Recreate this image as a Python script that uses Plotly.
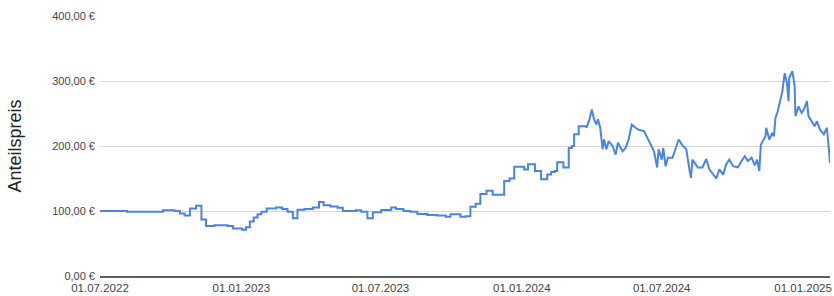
import plotly.graph_objects as go

# Weekly-ish step segment (2022-07 .. 2024-03)
step_dates = [
    "2022-07-01", "2022-08-05", "2022-09-21", "2022-10-06", "2022-10-13", "2022-10-19",
    "2022-10-26", "2022-11-03", "2022-11-10", "2022-11-16", "2022-11-27", "2022-12-14",
    "2022-12-21", "2023-01-02", "2023-01-07", "2023-01-12", "2023-01-17", "2023-01-22",
    "2023-01-27", "2023-02-03", "2023-02-15", "2023-02-23", "2023-03-02", "2023-03-09",
    "2023-03-15", "2023-03-24", "2023-04-04", "2023-04-12", "2023-04-18", "2023-04-27",
    "2023-05-06", "2023-05-13", "2023-05-30", "2023-06-06", "2023-06-14", "2023-06-21",
    "2023-07-02", "2023-07-15", "2023-07-21", "2023-07-31", "2023-08-09", "2023-08-18",
    "2023-08-31", "2023-09-13", "2023-09-24", "2023-09-30", "2023-10-13", "2023-10-20",
    "2023-10-26", "2023-11-02", "2023-11-08", "2023-11-16", "2023-11-24", "2023-12-09",
    "2023-12-16", "2023-12-22", "2024-01-04", "2024-01-09", "2024-01-18", "2024-01-26",
    "2024-02-03", "2024-02-08", "2024-02-13", "2024-02-16", "2024-02-24", "2024-03-02",
    "2024-03-06", "2024-03-09", "2024-03-15", "2024-03-25",
]
step_values = [
    100, 99, 101, 100, 96, 93,
    104, 108, 87, 77, 78, 77,
    73, 71, 75, 84, 90, 95,
    99, 104, 105.5, 103, 99, 89,
    102, 103, 105.5, 114, 109, 107,
    105, 100, 101, 99, 89, 98,
    101.5, 105.5, 103, 100, 99, 95.5,
    94, 93, 91, 95, 91, 92,
    106.5, 111, 126, 131, 125, 146,
    150, 168, 164, 172, 161.5, 149,
    156, 160, 161.5, 175, 167, 197,
    200, 218, 230.5, 228,
]

# Daily-ish segment (2024-03 .. 2025-02)
daily_dates = [
    "2024-03-25", "2024-03-29", "2024-04-01", "2024-04-04", "2024-04-07", "2024-04-09",
    "2024-04-12", "2024-04-15", "2024-04-17", "2024-04-20", "2024-04-23", "2024-04-28",
    "2024-05-02", "2024-05-05", "2024-05-11", "2024-05-15", "2024-05-19", "2024-05-23",
    "2024-05-28", "2024-06-01", "2024-06-08", "2024-06-12", "2024-06-17", "2024-06-21",
    "2024-06-25", "2024-06-27", "2024-07-01", "2024-07-03", "2024-07-06", "2024-07-09",
    "2024-07-15", "2024-07-19", "2024-07-23", "2024-07-28", "2024-08-02", "2024-08-06",
    "2024-08-08", "2024-08-10", "2024-08-17", "2024-08-23", "2024-08-28", "2024-09-01",
    "2024-09-08", "2024-09-10", "2024-09-14", "2024-09-19", "2024-09-23", "2024-09-27",
    "2024-10-02", "2024-10-08", "2024-10-13", "2024-10-17", "2024-10-21", "2024-10-26",
    "2024-10-30", "2024-11-02", "2024-11-05", "2024-11-07", "2024-11-13", "2024-11-14",
    "2024-11-18", "2024-11-22", "2024-11-24", "2024-11-26", "2024-11-29", "2024-12-02",
    "2024-12-05", "2024-12-08", "2024-12-11", "2024-12-13", "2024-12-14", "2024-12-16",
    "2024-12-18", "2024-12-21", "2024-12-22", "2024-12-26", "2024-12-30", "2025-01-02",
    "2025-01-06", "2025-01-08", "2025-01-12", "2025-01-16", "2025-01-19", "2025-01-23",
    "2025-01-28", "2025-02-01", "2025-02-03", "2025-02-05",
]
daily_values = [
    228, 241, 256, 241, 233, 241,
    228, 195, 210, 195, 207.5, 200,
    187, 205, 192, 197, 210, 233,
    228, 225, 223, 213, 202, 192,
    167, 195, 179, 197, 169, 182,
    182, 197, 210, 201, 195, 164,
    151, 179, 167, 167, 180, 164,
    154, 150, 164, 156, 172, 179,
    169, 167, 177, 184.5, 177, 182,
    170, 179, 161.5, 202, 215, 228,
    210, 220, 215, 243, 253.5, 271.5,
    284, 312, 297, 269, 305, 310,
    315, 292, 246, 261, 251, 256,
    269, 246, 238, 230.5, 238, 225,
    218, 228, 202, 174,
]

y_ticks = [0, 100, 200, 300, 400]
y_tick_labels = ["0,00 €", "100,00 €", "200,00 €", "300,00 €", "400,00 €"]
x_ticks = ["2022-07-01", "2023-01-01", "2023-07-01", "2024-01-01", "2024-07-01", "2025-01-01"]
x_tick_labels = ["01.07.2022", "01.01.2023", "01.07.2023", "01.01.2024", "01.07.2024", "01.01.2025"]

line_color = "#4a84e8"

fig = go.Figure()
fig.add_trace(go.Scatter(x=step_dates, y=step_values, mode="lines",
                         line=dict(color=line_color, width=2, shape="hv"),
                         showlegend=False, hoverinfo="x+y"))
fig.add_trace(go.Scatter(x=daily_dates, y=daily_values, mode="lines",
                         line=dict(color=line_color, width=2, shape="linear"),
                         showlegend=False, hoverinfo="x+y"))

fig.update_layout(
    width=834, height=296,
    margin=dict(l=100, r=2, t=16, b=19),
    paper_bgcolor="white", plot_bgcolor="white",
    font=dict(family="Liberation Sans, Arial, sans-serif", color="#444444", size=11),
    xaxis=dict(
        type="date",
        range=[step_dates[0], daily_dates[-1]],
        tickvals=x_ticks, ticktext=x_tick_labels,
        showgrid=False, zeroline=False,
        showline=True, linecolor="#5f5f5f", linewidth=1.5,
        ticks="", tickfont=dict(size=11.5, color="#444444"),
        ticklabelstandoff=0,
    ),
    yaxis=dict(
        range=[0, 400],
        tickvals=y_ticks, ticktext=y_tick_labels,
        showgrid=True, gridcolor="#d9d9d9", gridwidth=1,
        zeroline=False, showline=False, ticks="",
        tickfont=dict(size=11, color="#444444"),
        ticklabelstandoff=4,
        title=dict(text="Anteilspreis", font=dict(size=18, color="#222222"), standoff=25),
    ),
)

fig.write_html("out.html",
               config={"displayModeBar": False},
               post_script="document.body.style.margin='0';document.body.style.overflow='hidden';")
